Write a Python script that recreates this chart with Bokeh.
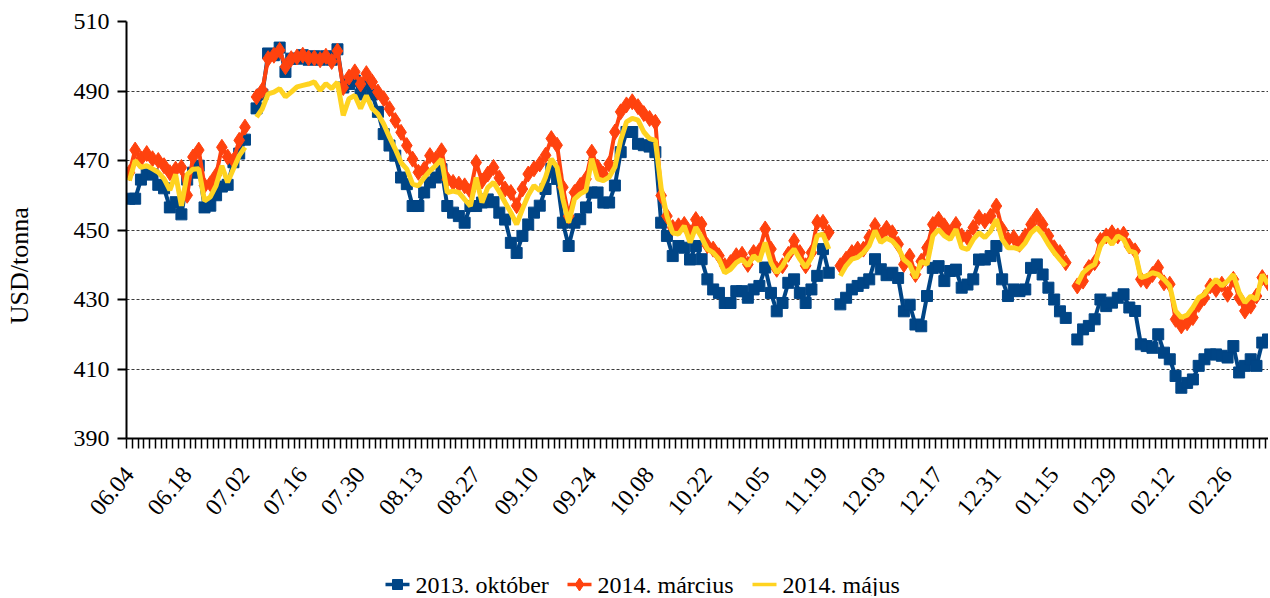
import math
import numpy as np
from bokeh.plotting import figure
from bokeh.layouts import column
from bokeh.models import FixedTicker, ColumnDataSource, Range1d
from bokeh.core.properties import value
from bokeh.embed import file_html
from bokeh.resources import INLINE

nan = float("nan")

tick_labels = ["06.04", "06.18", "07.02", "07.16", "07.30", "08.13", "08.27", "09.10",
               "09.24", "10.08", "10.22", "11.05", "11.19", "12.03", "12.17", "12.31",
               "01.15", "01.29", "02.12", "02.26"]

okt_2013 = [459, 459, 464.5, 466, 466, 463, 462, 456.5, 458, 454.5,
            464.5, 466.5, 468.5, 456.5, 457, 460, 462.5, 463, 469.5, 472,
            476, nan, 485, 489, 500.8, 500.3, 502.5, 495.5, 499.3, 499.3,
            500.3, 499, 500, 499, 500, 499, 502, 491, 492, 493,
            489, 492, 489, 484, 477.6, 474.3, 471.4, 465.1, 463.2, 456.9,
            456.9, 460.8, 463.7, 465.1, 467.5, 456.9, 455, 454, 452.1, 456.9,
            456.9, 457.9, 458.8, 458, 455, 453, 446.3, 443.4, 448.3, 451.6,
            455, 457, 461.8, 467.6, 464.7, 452.1, 445.4, 452.1, 453.1, 456.5,
            460.8, 460.8, 457.9, 457.9, 462.8, 472.4, 478.2, 478.2, 474.8, 474.4,
            474, 472.4, 452.1, 448.3, 442.5, 445.4, 444.9, 441.5, 445.4, 441.6,
            435.8, 432.9, 431.9, 429, 429, 432.4, 432.4, 430.5, 432.9, 433.9,
            439.2, 431.9, 426.6, 429, 434.8, 435.8, 431.9, 429, 432.9, 436.8,
            444.5, 437.7, nan, 428.6, 430.5, 432.9, 433.9, 434.8, 435.8, 441.6,
            438.7, 437, 437.7, 436.2, 426.6, 428.5, 422.8, 422.3, 431, 439.1,
            439.6, 435.3, 438.2, 438.6, 433.4, 434.3, 435.8, 441.5, 441.5, 442.5,
            445.4, 435.8, 431, 432.9, 432.4, 432.9, 439.1, 440.1, 437.2, 433.4,
            430, 426.6, 424.7, nan, 418.5, 421.4, 422.4, 424.3, 430, 428.1,
            429.1, 430.5, 431.5, 427.7, 426.7, 417.1, 416.6, 416.1, 420, 414.7,
            412.8, 408, 404.6, 406, 407, 410.9, 412.8, 414.2, 414.2, 413.8,
            413.3, 416.6, 409, 410.9, 412.8, 410.9, 417.6, 418.5]

mar_2014 = [466.5, 473, 470.5, 472, 470.5, 470, 468.5, 466.5, 467.5, 468,
            460, 471, 473, 462.8, 463.3, 465.7, 473.8, 471, 470, 475.8,
            479.6, nan, 488.3, 490.2, 499.3, 500.3, 501.7, 497, 499.3, 499.8,
            500.3, 499.5, 499.5, 499, 500, 498.5, 501.5, 491, 494, 495.5,
            492, 495, 492.6, 489.7, 487.8, 484.9, 481.5, 478.1, 474.3, 470.4,
            466.6, 467.5, 471.4, 470.4, 472.8, 464.6, 463.7, 463.2, 462.7, 461.2,
            469.4, 464.1, 466.1, 468, 465, 461.8, 460.8, 457, 461.8, 466.1,
            467.6, 469, 471.5, 476.3, 474.4, 462.3, 454, 460.8, 462.8, 464.7,
            472.4, 468.1, 466.1, 469, 478.2, 484, 486, 486.9, 485.5, 483.5,
            482.1, 481, 459.9, 454, 450.7, 451.2, 451.6, 449.2, 453, 451.7,
            445.5, 444.5, 442.6, 439.7, 440.6, 442.6, 443, 440.1, 443.5, 444,
            450.3, 444.5, 438.7, 439.7, 443, 446.9, 443.5, 439.7, 443.5, 452.2,
            452.2, 449.3, nan, 439.7, 441.6, 443.5, 444.5, 444.5, 447.9, 451.3,
            448.4, 450.5, 449.2, 445.9, 440.1, 442.5, 437.2, 441, 444.9, 451.6,
            453.1, 451.2, 449.2, 451.6, 448.3, 447.8, 450.7, 453.6, 452.6, 454,
            456.9, 450.2, 447.3, 447.8, 445.9, 448.3, 451.6, 454, 451.6, 448.3,
            444.9, 443.5, 440.6, nan, 433.9, 435.3, 439.2, 440.6, 447, 448.3,
            449.2, 448.3, 448.8, 445.4, 444, 435.8, 435.3, 437.2, 439.2, 434.8,
            434.4, 424.3, 422.4, 423.3, 424.8, 428.6, 430.5, 433.9, 432.9, 434.4,
            431.5, 435.8, 430.5, 426.7, 428.1, 431, 436.3, 434.8]

maj_2014 = [464.2, 470, 468, 468.5, 467.6, 466.6, 464.7, 461.5, 466, 457,
            466, 467.5, 467.6, 458.4, 459.5, 462.8, 468.5, 463.7, 467.6, 471.4,
            473.8, nan, 482.5, 484.9, 489.2, 489.7, 490.7, 488.3, 489.7, 491.2,
            491.6, 492, 492.6, 490.2, 492.1, 490.7, 492.5, 483, 487.8, 488.7,
            485, 488.7, 485, 483.4, 480.5, 476.7, 473.3, 469.4, 467.5, 463.2,
            462.7, 465.1, 467, 468.5, 470.4, 460.8, 461.2, 460.8, 458.8, 456.9,
            465.1, 457.9, 462.2, 463.7, 461, 457.9, 455, 451.6, 456, 460,
            462.8, 461.3, 465.2, 470.5, 468, 458.9, 452.1, 458.9, 460.4, 461.3,
            470.5, 464.7, 464.2, 465.2, 468.1, 475.8, 481.1, 482.1, 481.6, 478.2,
            476.3, 475.8, 462, 454, 449.2, 448.8, 451.2, 446.4, 450.8, 447.9,
            444.5, 443.5, 441.6, 437.7, 438.7, 440.6, 441.6, 439.7, 442.6, 441.1,
            446.4, 440.6, 437.7, 439.7, 442.6, 444.5, 441.6, 439.2, 442.1, 448.4,
            448.8, 444.5, nan, 436.8, 439.7, 441.6, 442.1, 443.5, 445.5, 449.8,
            446.4, 447.6, 446.8, 444.9, 441.5, 440.1, 436.2, 441, 440.1, 448.3,
            450.2, 448.3, 447.3, 450.2, 444.9, 444.4, 447.3, 449.2, 447.8, 449.7,
            453.1, 447.3, 444.9, 444.9, 444.4, 446.3, 449.2, 450.7, 448.7, 445.9,
            443.5, 441.5, 439.6, nan, 434.4, 437.7, 439.2, 440.1, 445.4, 447.8,
            445.9, 448.3, 447.3, 444, 443.5, 436.3, 436.8, 437.7, 437.2, 435.8,
            433.9, 426.7, 424.8, 425.5, 427.7, 430.5, 431.5, 433.9, 435.8, 433.9,
            435.3, 437.2, 432, 429.1, 431, 430, 437.2, 434.4]

series_names = ["2013. október", "2014. március", "2014. május"]
y_title = "USD/tonna"
colors = ["#004586", "#ff420e", "#ffd320"]
y_ticks = [390, 410, 430, 450, 470, 490, 510]

n = len(okt_2013)
src = ColumnDataSource(dict(x=list(range(n)),
                            okt=np.array(okt_2013, dtype=float),
                            mar=np.array(mar_2014, dtype=float),
                            maj=np.array(maj_2014, dtype=float)))

FONT = "Liberation Serif"
W = 1268
BL = 126

p = figure(width=W, height=540, output_backend="svg", toolbar_location=None,
           x_range=Range1d(-0.5, 197.08), y_range=Range1d(390, 510),
           min_border_left=BL, min_border_top=21, min_border_right=0,
           min_border_bottom=102)
p.outline_line_color = None
p.background_fill_color = "white"
p.border_fill_color = "white"

# x axis
label_pos = [i * 10 for i in range(len(tick_labels))]
p.xaxis.ticker = FixedTicker(ticks=label_pos, minor_ticks=[i - 0.5 for i in range(n + 2)])
p.xaxis.major_label_overrides = {pos: lab for pos, lab in zip(label_pos, tick_labels)}
p.xaxis.major_label_orientation = math.radians(50)
p.xaxis.major_tick_in = 0
p.xaxis.major_tick_out = 0
p.xaxis.minor_tick_in = 0
p.xaxis.minor_tick_out = 10
p.xaxis.minor_tick_line_color = "black"
p.xaxis.minor_tick_line_width = 1.5
p.xaxis.axis_line_color = "black"
p.xaxis.axis_line_width = 2
p.xaxis.major_label_standoff = 22
p.xaxis.major_label_text_font = FONT
p.xaxis.major_label_text_font_size = "24px"
p.xaxis.major_label_text_color = "black"

# y axis (title padded with no-break spaces so that it sits lower, as in the original)
p.yaxis.ticker = FixedTicker(ticks=y_ticks)
p.yaxis.major_tick_in = 0
p.yaxis.major_tick_out = 9
p.yaxis.major_tick_line_width = 2
p.yaxis.major_tick_line_color = "black"
p.yaxis.minor_tick_line_color = None
p.yaxis.axis_line_color = "black"
p.yaxis.axis_line_width = 2
p.yaxis.major_label_standoff = 8
p.yaxis.major_label_text_font = FONT
p.yaxis.major_label_text_font_size = "24px"
p.yaxis.major_label_text_color = "black"
p.yaxis.axis_label = y_title + "\u00a0" * 11
p.yaxis.axis_label_standoff = 37
p.yaxis.axis_label_text_font = FONT
p.yaxis.axis_label_text_font_size = "26px"
p.yaxis.axis_label_text_font_style = "normal"
p.yaxis.axis_label_text_color = "black"

p.xgrid.visible = False
p.ygrid.grid_line_color = "#3c3c3c"
p.ygrid.grid_line_dash = "3 2"
p.ygrid.grid_line_width = 1

# series
p.line("x", "okt", source=src, line_color=colors[0], line_width=4)
p.scatter("x", "okt", source=src, marker="square", size=11,
          fill_color=colors[0], line_color=colors[0])
p.line("x", "mar", source=src, line_color=colors[1], line_width=4)
p.scatter("x", "mar", source=src, marker="diamond", size=16,
          fill_color=colors[1], line_color=colors[1])
p.line("x", "maj", source=src, line_color=colors[2], line_width=5)

# legend strip (its own small figure below the chart; its frame lines up with the chart's)
LH = 56
lg = figure(width=W, height=LH, output_backend="svg", toolbar_location=None,
            x_range=Range1d(BL, W), y_range=Range1d(0, LH),
            x_axis_type=None, y_axis_type=None, min_border=0,
            min_border_left=BL, min_border_right=0)
lg.outline_line_color = None
lg.xgrid.visible = False
lg.ygrid.visible = False
ly = 12
glyph_x0 = [385, 567, 752]
glyph_len = 24
text_x = [415, 597, 782]
for k in range(3):
    lg.line([glyph_x0[k], glyph_x0[k] + glyph_len], [ly, ly], line_color=colors[k], line_width=3.5)
lg.scatter([glyph_x0[0] + glyph_len / 2], [ly], marker="square", size=10,
           fill_color=colors[0], line_color=colors[0])
lg.scatter([glyph_x0[1] + glyph_len / 2], [ly], marker="diamond", size=13,
           fill_color=colors[1], line_color=colors[1])
lg.text(x=text_x, y=[ly] * 3, text=series_names, text_font=value(FONT),
        text_font_size=value("24px"), text_baseline="middle", text_align="left",
        text_color="black")

layout = column(p, lg, spacing=0)
open("out.html", "w").write(file_html(layout, INLINE))
